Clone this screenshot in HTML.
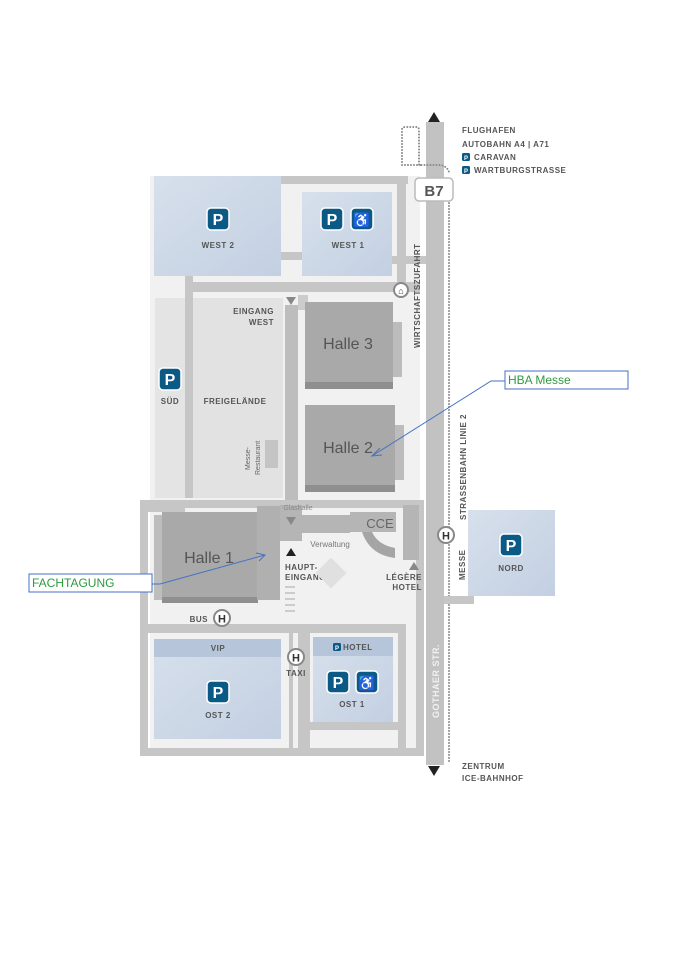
<!DOCTYPE html>
<html><head><meta charset="utf-8"><style>
body{margin:0;background:#fff;}
svg{display:block;font-family:"Liberation Sans",sans-serif;}
.lb{font-size:8px;font-weight:bold;fill:#555;letter-spacing:.5px}
</style></head><body>
<svg width="680" height="962" viewBox="0 0 680 962" xmlns="http://www.w3.org/2000/svg">
<defs>
<linearGradient id="pk" x1="0" y1="0" x2="1" y2="1"><stop offset="0" stop-color="#d7e0ec"/><stop offset="1" stop-color="#c3d0e2"/></linearGradient>
<g id="P"><rect x="-11" y="-11" width="22" height="22" rx="4" fill="#0b5a86" stroke="#fff" stroke-width="1.5"/><text x="0" y="6" text-anchor="middle" font-size="16" font-weight="bold" fill="#fff">P</text></g>
<g id="W"><rect x="-11" y="-11" width="22" height="22" rx="4" fill="#0b5a86" stroke="#fff" stroke-width="1.5"/><text x="0" y="6" text-anchor="middle" font-size="14" font-weight="bold" fill="#fff">♿</text></g>
<g id="H"><circle r="8" fill="#fff" stroke="#888" stroke-width="2"/><text x="0" y="4.5" text-anchor="middle" font-size="11" font-weight="bold" fill="#333">H</text></g>
</defs>
<rect x="150" y="176" width="270" height="580" fill="#f1f1f1"/>
<rect x="281" y="176" width="127" height="8" fill="#c6c6c6"/>
<rect x="397" y="176" width="9" height="114" fill="#c6c6c6"/>
<rect x="392" y="256" width="34" height="8" fill="#c6c6c6"/>
<rect x="281" y="252" width="21" height="8" fill="#c6c6c6"/>
<rect x="185" y="282" width="235" height="10" fill="#c6c6c6"/>
<rect x="185" y="276" width="8" height="222" fill="#c6c6c6"/>
<rect x="426" y="122" width="18" height="643" fill="#c2c2c2"/>
<polygon points="428,122 434,112 440,122" fill="#222"/>
<polygon points="428,766 434,776 440,766" fill="#222"/>
<line x1="449" y1="200" x2="449" y2="762" stroke="#888" stroke-width="2" stroke-linecap="round" stroke-dasharray="0,3"/>
<path d="M420,165 H402 V130 Q402,127 405,127 H416 Q419,127 419,130 V165 H440 Q447,166 449,172" fill="none" stroke="#888" stroke-width="2" stroke-linecap="round" stroke-dasharray="0,3"/>
<rect x="415" y="178" width="38" height="23" rx="4" fill="#fff" stroke="#bbb" stroke-width="1.5"/>
<text x="434" y="196" text-anchor="middle" font-size="15" font-weight="bold" fill="#555">B7</text>
<rect x="154" y="176" width="127" height="100" fill="url(#pk)"/>
<use href="#P" x="218" y="219"/>
<text x="218" y="248" text-anchor="middle" class="lb" font-size="9">WEST 2</text>
<rect x="302" y="192" width="90" height="84" fill="url(#pk)"/>
<use href="#P" x="332" y="219"/><use href="#W" x="362" y="219"/>
<text x="348" y="248" text-anchor="middle" class="lb" font-size="9">WEST 1</text>
<rect x="155" y="298" width="30" height="200" fill="#e4e4e4"/>
<use href="#P" x="170" y="379"/>
<text x="170" y="404" text-anchor="middle" class="lb" font-size="9">SÜD</text>
<rect x="193" y="298" width="90" height="200" fill="#e2e2e2"/>
<text x="235" y="404" text-anchor="middle" class="lb" font-size="9">FREIGELÄNDE</text>
<text x="274" y="314" text-anchor="end" class="lb" font-size="7">EINGANG</text>
<text x="274" y="325" text-anchor="end" class="lb" font-size="7">WEST</text>
<polygon points="286,297 296,297 291,305" fill="#888"/>
<rect x="285" y="305" width="13" height="210" fill="#bdbdbd"/>
<rect x="265" y="440" width="13" height="28" fill="#c4c4c4"/>
<text transform="translate(250,470) rotate(-90)" font-size="7" fill="#666">Messe-</text>
<text transform="translate(260,475) rotate(-90)" font-size="7" fill="#666">Restaurant</text>
<rect x="298" y="295" width="10" height="15" fill="#ccc"/>
<rect x="305" y="302" width="88" height="80" fill="#a9a9a9"/>
<rect x="305" y="382" width="88" height="7" fill="#8f8f8f"/>
<rect x="393" y="322" width="9" height="55" fill="#bcbcbc"/>
<text x="348" y="349" text-anchor="middle" font-size="16" fill="#555">Halle 3</text>
<rect x="305" y="405" width="90" height="80" fill="#a9a9a9"/>
<rect x="305" y="485" width="90" height="7" fill="#8f8f8f"/>
<rect x="395" y="425" width="9" height="55" fill="#bcbcbc"/>
<text x="348" y="453" text-anchor="middle" font-size="16" fill="#555">Halle 2</text>
<rect x="144" y="504" width="276" height="248" fill="none" stroke="#c6c6c6" stroke-width="8"/>
<rect x="140" y="500" width="45" height="12" fill="#c6c6c6"/>
<rect x="162" y="512" width="96" height="85" fill="#a9a9a9"/>
<rect x="162" y="597" width="96" height="6" fill="#8f8f8f"/>
<rect x="154" y="515" width="8" height="85" fill="#bdbdbd"/>
<rect x="257" y="506" width="23" height="94" fill="#b0b0b0"/>
<text x="209" y="563" text-anchor="middle" font-size="16" fill="#555">Halle 1</text>
<rect x="280" y="505" width="22" height="36" fill="#b5b5b5"/>
<polygon points="286,517 296,517 291,525" fill="#888"/>
<text x="298" y="510" text-anchor="middle" font-size="7" fill="#888">Glashalle</text>
<rect x="302" y="515" width="48" height="18" fill="#b5b5b5"/>
<rect x="350" y="512" width="46" height="20" fill="#b5b5b5"/>
<text x="380" y="528" text-anchor="middle" font-size="13" fill="#666">CCE</text>
<path d="M362,532 Q370,555 395,558 L395,548 Q378,545 372,532Z" fill="#a5a5a5"/>
<rect x="403" y="505" width="16" height="55" fill="#b5b5b5"/>
<text x="330" y="547" text-anchor="middle" font-size="8" fill="#777">Verwaltung</text>
<polygon points="286,556 296,556 291,548" fill="#222"/>
<text x="285" y="570" class="lb" font-size="7">HAUPT-</text>
<text x="285" y="580" class="lb" font-size="7">EINGANG</text>
<rect x="320" y="562" width="22" height="22" fill="#e0e0e0" transform="rotate(45 331 573)"/>
<polygon points="409,570 419,570 414,562" fill="#888"/>
<text x="422" y="580" text-anchor="end" class="lb" font-size="7">LÉGÈRE</text>
<text x="422" y="590" text-anchor="end" class="lb" font-size="7">HOTEL</text>
<g fill="#ccc"><rect x="285" y="586" width="10" height="2"/><rect x="285" y="592" width="10" height="2"/><rect x="285" y="598" width="10" height="2"/><rect x="285" y="604" width="10" height="2"/><rect x="285" y="610" width="10" height="2"/></g>
<rect x="144" y="624" width="262" height="9" fill="#c6c6c6"/>
<use href="#H" x="222" y="618"/>
<text x="208" y="622" text-anchor="end" class="lb" font-size="7">BUS</text>
<rect x="289" y="633" width="4" height="115" fill="#c6c6c6"/>
<rect x="298" y="633" width="4" height="115" fill="#c6c6c6"/>
<rect x="302" y="624" width="8" height="124" fill="#c6c6c6"/>
<rect x="398" y="624" width="8" height="124" fill="#c6c6c6"/>
<rect x="302" y="722" width="104" height="8" fill="#c6c6c6"/>
<rect x="154" y="639" width="127" height="100" fill="url(#pk)"/>
<rect x="154" y="639" width="127" height="18" fill="#b6c5da"/>
<text x="218" y="651" text-anchor="middle" class="lb" font-size="7">VIP</text>
<use href="#P" x="218" y="692"/>
<text x="218" y="718" text-anchor="middle" class="lb" font-size="9">OST 2</text>
<use href="#H" x="296" y="657"/>
<text x="296" y="676" text-anchor="middle" class="lb" font-size="7">TAXI</text>
<rect x="313" y="637" width="80" height="85" fill="url(#pk)"/>
<rect x="313" y="637" width="80" height="19" fill="#b6c5da"/>
<rect x="333" y="643" width="8" height="8" rx="1.5" fill="#0b5a86"/><text x="337" y="650" text-anchor="middle" font-size="6" font-weight="bold" fill="#fff">P</text>
<text x="343" y="650" class="lb" font-size="7">HOTEL</text>
<use href="#P" x="338" y="682"/><use href="#W" x="367" y="682"/>
<text x="352" y="707" text-anchor="middle" class="lb" font-size="9">OST 1</text>
<use href="#H" x="446" y="535"/>
<rect x="444" y="596" width="30" height="8" fill="#c6c6c6"/>
<rect x="468" y="510" width="87" height="86" fill="url(#pk)"/>
<use href="#P" x="511" y="545"/>
<text x="511" y="571" text-anchor="middle" class="lb" font-size="9">NORD</text>
<text transform="translate(465,580) rotate(-90)" class="lb" font-size="7">MESSE</text>
<text transform="translate(466,520) rotate(-90)" class="lb" font-size="7">STRASSENBAHN LINIE 2</text>
<text transform="translate(420,348) rotate(-90)" class="lb" font-size="7">WIRTSCHAFTSZUFAHRT</text>
<text transform="translate(439,718) rotate(-90)" font-size="9" font-weight="bold" fill="#f2f2f2" letter-spacing=".5">GOTHAER STR.</text>
<circle cx="401" cy="290" r="7" fill="#fff" stroke="#888" stroke-width="2"/>
<text x="401" y="294" text-anchor="middle" font-size="9" fill="#333">⌂</text>
<text x="462" y="133" class="lb" font-size="7">FLUGHAFEN</text>
<text x="462" y="147" class="lb" font-size="7">AUTOBAHN A4 | A71</text>
<rect x="462" y="153" width="8" height="8" rx="1.5" fill="#0b5a86"/><text x="466" y="160" text-anchor="middle" font-size="6" font-weight="bold" fill="#fff">P</text>
<text x="474" y="160" class="lb" font-size="7">CARAVAN</text>
<rect x="462" y="166" width="8" height="8" rx="1.5" fill="#0b5a86"/><text x="466" y="173" text-anchor="middle" font-size="6" font-weight="bold" fill="#fff">P</text>
<text x="474" y="173" class="lb" font-size="7">WARTBURGSTRASSE</text>
<text x="462" y="769" class="lb" font-size="7">ZENTRUM</text>
<text x="462" y="781" class="lb" font-size="7">ICE-BAHNHOF</text>
<rect x="505" y="371" width="123" height="18" fill="#fff" stroke="#4472c4" stroke-width="1"/>
<text x="508" y="384" font-size="12" fill="#2e9b3e">HBA Messe</text>
<polyline points="505,381 491,381 372,456" fill="none" stroke="#4472c4" stroke-width="1"/>
<polyline points="380,448 372,456 382,455" fill="none" stroke="#4472c4" stroke-width="1"/>
<rect x="29" y="574" width="123" height="18" fill="#fff" stroke="#4472c4" stroke-width="1"/>
<text x="32" y="587" font-size="12" fill="#2e9b3e">FACHTAGUNG</text>
<polyline points="152,584 160,584 265,555" fill="none" stroke="#4472c4" stroke-width="1"/>
<polyline points="256,553 265,555 259,561" fill="none" stroke="#4472c4" stroke-width="1"/>
</svg>
</body></html>
